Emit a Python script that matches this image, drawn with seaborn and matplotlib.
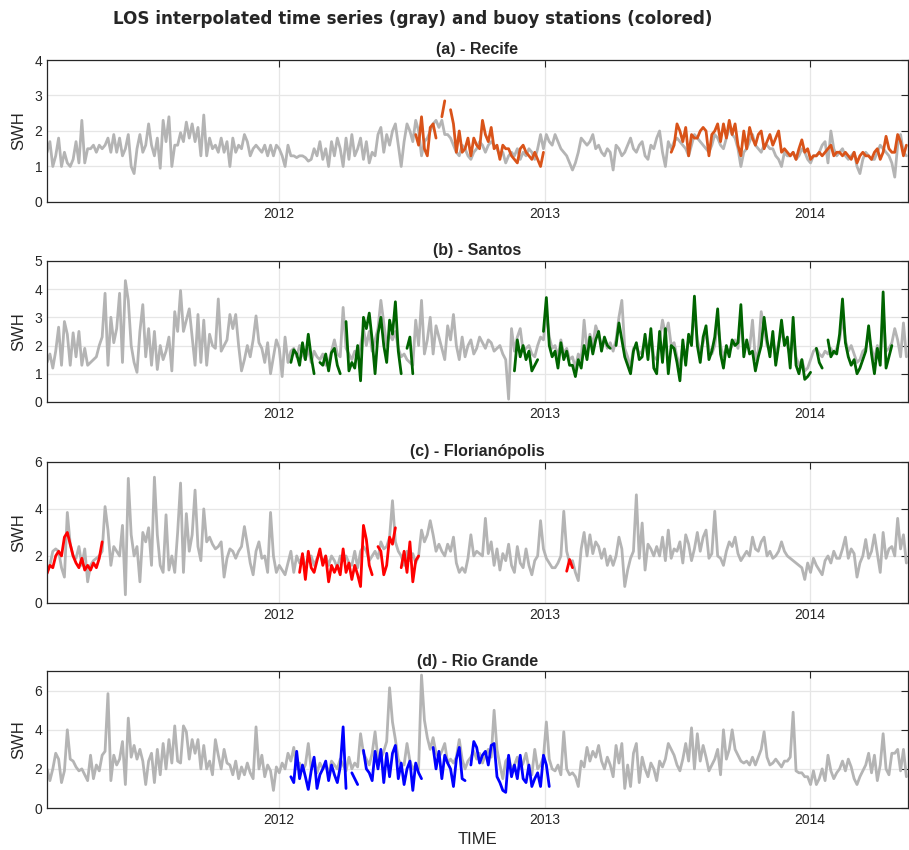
import pandas as pd
import seaborn as sns
import matplotlib
matplotlib.use("Agg")
import matplotlib.pyplot as plt
import matplotlib.dates as mdates

# LOS series sampled every 4 days from 2011-02-15
LOS_START = "2011-02-15"
STEP = "4D"

recife_los = [
    1.4, 1.7, 1.0, 1.3, 1.8, 1.0, 1.4, 1.1, 1.0, 1.2,
    1.7, 1.1, 2.3, 1.1, 1.5, 1.5, 1.6, 1.4, 1.6, 1.5,
    1.6, 1.8, 1.4, 1.9, 1.4, 1.8, 1.3, 1.5, 1.9, 1.0,
    0.8, 1.5, 1.9, 1.4, 1.6, 2.2, 1.6, 1.3, 1.8, 0.95,
    2.3, 1.7, 2.4, 1.0, 1.6, 1.6, 1.95, 1.7, 2.25, 1.8,
    2.2, 1.7, 2.1, 1.3, 2.45, 1.3, 1.8, 1.5, 1.6, 1.4,
    1.8, 1.4, 1.7, 1.0, 1.8, 1.4, 1.6, 1.5, 1.9, 1.7,
    1.3, 1.5, 1.6, 1.5, 1.4, 1.6, 1.3, 1.6, 1.3, 1.6,
    1.5, 1.3, 1.0, 1.6, 1.3, 1.3, 1.25, 1.3, 1.3, 1.25,
    1.15, 1.2, 1.5, 1.3, 1.7, 1.2, 1.5, 1.0, 1.7, 1.3,
    1.8, 1.5, 1.0, 1.8, 1.2, 1.9, 1.3, 1.5, 1.8, 1.2,
    1.7, 1.1, 1.4, 1.3, 1.9, 2.1, 1.4, 1.9, 1.6, 2.0,
    2.2, 1.6, 1.0, 1.7, 2.2, 2.0, 1.7, 2.3, 2.0, 1.3,
    1.7, 1.8, 2.0, 2.2, 2.3, 2.1, 2.3, 1.9, 1.9, 1.8,
    1.6, 1.4, 1.3, 1.6, 1.5, 1.3, 1.2, 1.4, 1.5, 1.7,
    1.6, 1.4, 1.6, 1.7, 1.6, 1.5, 1.3, 1.4, 1.1, 1.3,
    1.4, 1.3, 1.5, 1.2, 1.4, 1.3, 1.5, 1.4, 1.2, 1.5,
    1.9, 1.5, 1.9, 1.7, 1.6, 1.9, 1.7, 1.5, 1.4, 1.3,
    1.1, 0.9, 1.1, 1.4, 1.8, 1.7, 1.6, 1.7, 1.9, 1.5,
    1.6, 1.4, 1.3, 1.5, 1.4, 0.9, 1.6, 1.5, 1.3, 1.4,
    1.6, 1.8, 1.5, 1.4, 1.6, 1.7, 1.3, 1.2, 1.6, 1.5,
    1.8, 2.0, 1.4, 1.0, 1.7, 1.5, 1.7, 1.8, 1.7, 1.6,
    1.5, 1.3, 1.6, 1.9, 1.8, 1.7, 1.6, 1.5, 1.4, 1.6,
    1.9, 1.8, 1.6, 1.5, 1.8, 2.1, 1.9, 1.8, 1.5, 1.0,
    1.4, 1.5, 1.7, 1.9, 1.6, 1.5, 1.4, 1.6, 1.6, 1.5,
    1.5, 1.3, 1.2, 1.0, 1.4, 1.3, 1.3, 1.4, 1.2, 1.3,
    1.5, 1.4, 1.2, 1.1, 1.3, 1.3, 1.4, 1.6, 1.7, 1.1,
    2.0, 1.5, 1.3, 1.4, 1.5, 1.3, 1.2, 1.3, 1.4, 1.0,
    0.8, 1.2, 1.4, 1.3, 1.2, 1.2, 1.4, 1.6, 1.5, 1.4,
    1.3, 1.1, 0.7, 1.6, 1.9, 1.4, 1.3,
]

santos_los = [
    1.4, 1.7, 1.2, 1.8, 2.65, 1.3, 2.85, 2.4, 1.3, 2.45,
    1.6, 2.5, 1.3, 1.9, 1.3, 1.4, 1.5, 1.6, 2.0, 2.3,
    3.85, 1.3, 3.0, 2.1, 2.6, 3.85, 1.4, 4.3, 3.6, 2.0,
    1.4, 1.05, 2.5, 3.45, 1.6, 2.6, 1.3, 2.5, 1.15, 2.0,
    1.5, 1.8, 2.3, 1.1, 3.2, 2.5, 3.95, 2.5, 2.9, 3.3,
    2.3, 1.3, 3.1, 1.4, 2.9, 1.3, 2.4, 2.0, 1.9, 3.65,
    1.8, 2.0, 2.2, 3.1, 2.6, 3.1, 2.0, 1.1, 1.5, 2.0,
    1.6, 2.2, 3.05, 2.1, 1.9, 1.4, 2.1, 1.0, 1.6, 2.2,
    1.9, 0.9, 2.3, 1.4, 1.8, 1.9, 1.6, 2.0, 1.7, 1.5,
    1.9, 1.4, 1.8, 1.6, 1.5, 1.7, 1.3, 1.4, 1.8, 2.2,
    1.7, 1.6, 3.35, 1.9, 1.7, 1.5, 1.8, 1.6, 2.0, 2.6,
    2.0, 2.5, 1.8, 2.2, 2.6, 3.6, 2.8, 2.0, 2.4, 2.2,
    2.5, 1.9, 1.6, 1.7, 1.5, 1.4, 1.3, 2.9, 2.0, 3.6,
    1.7, 2.2, 3.0, 1.7, 2.7, 2.3, 1.9, 1.5, 2.7, 2.2,
    3.1, 2.0, 1.5, 2.3, 1.6, 2.0, 2.2, 1.7, 1.9, 2.3,
    2.1, 1.9, 2.2, 2.1, 1.8, 1.9, 2.0, 1.7, 1.5, 0.1,
    2.6, 1.8, 2.3, 2.6, 1.8, 1.9, 2.0, 1.7, 1.6, 2.0,
    2.3, 2.2, 3.2, 2.3, 1.9, 2.0, 1.6, 2.2, 1.7, 1.9,
    1.5, 1.6, 1.2, 1.7, 1.5, 2.9, 1.8, 2.4, 2.0, 2.7,
    2.4, 2.0, 2.2, 1.9, 2.1, 1.8, 2.2, 3.0, 3.6, 1.9,
    1.6, 1.2, 1.9, 2.0, 1.7, 1.8, 2.2, 1.8, 2.4, 1.6,
    1.5, 2.2, 2.9, 2.4, 2.8, 2.0, 2.1, 1.6, 1.3, 2.0,
    1.6, 2.2, 2.3, 3.1, 2.2, 1.8, 2.1, 2.5, 1.9, 1.7,
    2.0, 2.8, 2.0, 1.6, 1.9, 1.8, 2.0, 2.2, 1.9, 2.9,
    1.9, 2.0, 1.9, 2.9, 1.5, 1.8, 3.2, 2.6, 2.0, 1.8,
    2.2, 1.6, 2.1, 2.5, 2.1, 2.0, 1.6, 2.4, 1.6, 1.3,
    1.5, 1.1, 1.2, 1.5, 1.8, 1.9, 1.7, 1.6, 1.8, 1.7,
    1.9, 1.7, 1.9, 2.2, 3.0, 2.2, 1.8, 2.0, 1.7, 1.4,
    1.5, 1.8, 1.9, 2.4, 1.9, 1.5, 2.0, 1.6, 3.2, 1.8,
    1.9, 2.1, 2.6, 2.2, 1.6, 2.8, 1.6,
]

floripa_los = [
    1.3, 1.6, 2.2, 2.3, 2.2, 1.5, 1.1, 3.85, 2.5, 2.0,
    1.9, 2.4, 1.6, 2.3, 0.9, 1.6, 1.8, 1.9, 2.0, 2.2,
    4.1, 3.1, 1.6, 2.4, 2.2, 2.0, 3.3, 0.35, 5.3, 2.9,
    2.0, 2.4, 0.9, 3.0, 2.6, 3.2, 1.6, 5.35, 2.9, 1.6,
    1.3, 3.75, 1.4, 2.0, 1.3, 3.0, 5.1, 1.3, 3.8, 2.2,
    2.9, 4.8, 2.4, 1.8, 4.0, 2.6, 2.8, 2.5, 2.3, 2.4,
    2.6, 1.1, 1.9, 2.3, 2.2, 1.9, 2.2, 2.4, 3.25, 2.5,
    1.7, 1.2, 2.2, 2.6, 1.9, 2.0, 1.3, 3.85, 2.0, 1.3,
    1.6, 1.4, 1.2, 1.7, 2.2, 1.3, 2.0, 1.7, 2.0, 1.6,
    1.8, 2.0, 1.6, 1.9, 2.1, 1.7, 2.0, 1.6, 2.0, 1.8,
    1.5, 2.0, 1.8, 2.0, 1.7, 1.6, 2.2, 1.5, 2.2, 2.4,
    2.2, 1.8, 2.0, 2.2, 1.9, 2.6, 2.3, 2.4, 2.8, 4.35,
    2.6, 2.2, 2.0, 1.6, 2.2, 1.8, 2.1, 1.7, 2.0, 3.1,
    2.6, 2.9, 3.5, 2.9, 2.2, 2.5, 2.2, 2.0, 2.5, 2.2,
    2.8, 1.7, 1.3, 1.5, 1.3, 1.9, 2.9, 2.0, 2.2, 2.1,
    2.0, 3.6, 2.1, 2.6, 1.6, 2.3, 1.4, 2.1, 1.8, 2.5,
    1.6, 1.3, 2.4, 1.7, 1.5, 2.3, 1.6, 1.2, 1.8, 2.0,
    3.5, 2.3, 1.9, 1.7, 1.5, 1.5, 1.7, 2.0, 3.9, 2.2,
    1.7, 1.8, 1.3, 0.95, 2.3, 3.0, 2.0, 2.9, 2.1, 2.6,
    2.4, 1.9, 2.3, 1.6, 2.0, 1.6, 2.0, 2.8, 2.3, 0.7,
    1.4, 1.9, 2.2, 4.6, 1.9, 3.4, 1.4, 2.5, 2.3, 2.0,
    2.4, 2.0, 2.8, 1.8, 3.1, 1.9, 2.3, 2.2, 2.6, 1.7,
    2.9, 2.5, 1.8, 2.3, 3.0, 2.2, 2.8, 3.1, 1.9, 2.1,
    3.9, 2.0, 1.9, 1.6, 2.2, 2.6, 2.4, 2.8, 2.1, 1.8,
    2.0, 2.2, 2.0, 2.8, 2.3, 2.2, 2.6, 2.8, 2.0, 2.2,
    1.9, 2.0, 2.2, 2.6, 2.2, 2.0, 1.9, 1.8, 1.7, 1.6,
    1.5, 1.0, 1.7, 1.3, 1.9, 1.6, 1.4, 1.2, 1.8, 2.0,
    1.7, 2.2, 1.9, 1.9, 2.3, 2.8, 1.9, 2.3, 2.1, 1.1,
    1.7, 2.0, 2.7, 1.9, 2.2, 2.9, 2.1, 1.3, 3.0, 1.9,
    2.3, 2.4, 2.0, 3.6, 2.3, 2.9, 1.7,
]

riogrande_los = [
    2.0, 1.4, 2.0, 2.8, 2.5, 1.3, 1.9, 4.0, 2.5, 2.4,
    2.1, 1.9, 2.0, 1.7, 1.4, 2.7, 1.5, 2.2, 1.9, 2.7,
    2.9, 5.85, 1.4, 2.7, 2.2, 2.5, 3.4, 1.2, 4.6, 2.6,
    3.2, 2.5, 3.0, 2.4, 1.2, 2.4, 2.8, 1.3, 3.0, 1.7,
    3.3, 2.0, 3.5, 2.3, 4.2, 2.4, 2.3, 4.2, 3.9, 2.5,
    3.5, 2.8, 3.5, 2.0, 3.2, 2.0, 2.4, 1.7, 3.5, 2.7,
    2.0, 3.0, 2.3, 2.2, 1.7, 2.4, 1.5, 2.1, 1.7, 2.3,
    1.8, 1.5, 4.15, 2.0, 2.7, 1.6, 2.2, 1.9, 0.9, 2.1,
    1.8, 2.3, 2.0, 2.8, 2.4, 3.1, 2.0, 2.3, 1.9, 2.2,
    3.3, 2.0, 2.5, 1.8, 2.3, 2.0, 2.2, 1.8, 2.4, 2.2,
    2.0, 2.5, 2.2, 1.9, 2.6, 2.0, 2.3, 2.1, 3.8, 2.8,
    2.5, 2.2, 2.8, 3.9, 2.5, 2.5, 2.9, 3.4, 6.15, 4.4,
    3.5, 2.5, 2.2, 2.2, 3.3, 2.4, 2.0, 2.2, 2.0, 6.8,
    4.5, 3.6, 3.0, 3.6, 2.8, 2.6, 2.9, 3.3, 2.3, 2.5,
    2.3, 2.6, 3.5, 2.5, 2.0, 2.4, 2.6, 2.9, 2.5, 2.8,
    2.3, 2.7, 3.0, 2.6, 5.0, 3.0, 2.2, 1.5, 2.4, 2.6,
    2.0, 2.2, 2.6, 2.0, 2.3, 2.8, 2.0, 1.7, 3.0, 2.0,
    2.2, 2.6, 4.4, 2.5, 2.0, 1.9, 2.2, 1.7, 3.9, 2.0,
    1.7, 1.8, 1.6, 1.1, 2.4, 2.1, 3.1, 2.4, 2.9, 2.6,
    3.2, 2.4, 2.0, 2.6, 2.2, 1.6, 3.2, 2.3, 3.3, 1.0,
    2.2, 1.1, 2.8, 3.3, 1.3, 2.6, 2.0, 1.6, 2.3, 2.0,
    1.4, 2.4, 2.1, 2.5, 3.3, 3.0, 2.7, 2.2, 1.9, 2.5,
    3.3, 2.4, 4.1, 2.0, 3.8, 2.4, 3.2, 2.6, 1.9, 2.2,
    2.5, 3.0, 1.7, 4.0, 2.5, 3.0, 4.0, 3.0, 2.7, 2.4,
    2.3, 2.4, 2.2, 2.6, 2.2, 2.6, 3.0, 3.9, 2.6, 2.2,
    2.3, 2.5, 2.3, 2.1, 2.4, 2.4, 2.6, 4.9, 1.9, 1.8,
    1.8, 1.6, 1.6, 1.2, 1.9, 1.2, 1.5, 2.0, 1.4, 2.7,
    1.9, 1.5, 1.8, 2.0, 2.4, 1.9, 2.5, 2.1, 1.5, 1.2,
    1.6, 1.9, 2.2, 2.8, 1.8, 2.7, 1.4, 2.2, 3.8, 2.0,
    1.7, 2.8, 2.8, 3.0, 1.9, 3.0, 1.6,
]

# buoy records (same 4-day step, None = no data)
recife_buoy_a_start = "2012-07-07"
recife_buoy_a = [
    1.9, 1.6, 2.4, 1.5, 1.3, 2.1, 2.2, 1.8, None, 2.4, 2.85, None,
    2.6, 2.2, 1.4, 2.0, 1.4, 1.5, 1.8, 1.3, 1.8, 1.6, 1.5, 2.3, 1.9,
    1.7, 2.1, 1.5, 1.6, 1.2, 1.6, 1.5, 1.5, 1.3, 1.2, 1.1, 1.5, 1.6,
    1.4, 1.3, 1.2, 1.4, 1.2, 1.0, 1.4,
]
recife_buoy_b_start = "2013-06-24"
recife_buoy_b = [
    1.4, 1.6, 2.2, 2.0, 1.7, 2.1, 1.3, 1.9, 1.8, 1.8,
    2.0, 2.1, 2.0, 1.3, 1.9, 2.0, 2.2, 1.7, 2.2, 1.8,
    2.3, 1.9, 2.2, 1.6, 1.3, 2.0, 1.5, 2.1, 1.8, 1.6,
    1.9, 2.0, 1.5, 1.7, 1.9, 1.6, 1.8, 2.0, 1.4, 1.5,
    1.4, 1.3, 1.4, 1.2, 1.5, 1.75, 1.4, 1.5, 1.2, 1.3,
    1.3, 1.4, 1.3, 1.4, 1.5, 1.6, 1.3, 1.4, 1.4, 1.3,
    1.4, 1.3, 1.2, 1.4, 1.1, 1.3, 1.4, 1.3, 1.3, 1.2,
    1.4, 1.5, 1.2, 1.4, 1.85, 1.5, 1.4, 1.4, 1.9, 1.7,
    1.3, 1.6,
]

santos_buoy_a_start = "2012-01-17"
santos_buoy_a = [
    1.4, 1.85, 1.7, 1.3, 2.1, 1.5, 2.4, 1.6, 1.0, None,
    1.4, 1.3, 1.7, 1.1, 1.75, 1.9, 1.3, 1.0, None, 2.85,
    1.1, 1.4, 1.2, 2.0, 0.75, 3.0, 2.6, 3.15, 2.2, 1.0,
    2.4, 3.0, 2.0, 1.4, 2.9, 2.4, 3.55, 1.8, 1.0, None,
    1.9, 2.3, 1.0,
]
santos_buoy_b_start = "2012-11-20"
santos_buoy_b = [
    1.1, 2.2, 1.6, 2.0, 1.5, 1.8, 1.1, 1.3, 1.5, None,
    2.5, 3.7, 2.0, 1.6, 1.8, 1.2, 2.1, 1.5, 1.8, 1.3,
    1.3, 0.9, 1.5, 1.2, 2.0, 1.5, 2.3, 1.7, 2.2, 2.5,
    1.8, 2.3, 2.0, 1.9, None, 2.0, 2.8, 2.2, 1.6, 1.3,
    1.0, 1.8, 2.1, 1.5, 1.6, 2.4, 1.5, 2.6, 1.2, 1.0,
    2.5, 1.4, 2.6, 1.0, 2.0, 1.9, 1.4, 0.75, 2.2, 1.3,
    2.4, 2.0, 3.75, 2.0, 1.4, 2.3, 2.7, 1.5, 1.8, 2.3,
    3.3, 1.7, 1.2, 2.0, 1.6, 2.2, 2.0, 2.1, 3.45, 1.6,
    2.2, 1.7, 1.8, 1.1, 1.6, 2.0, 3.0, 2.2, 1.6, 2.5,
    1.3, 2.0, 2.9, 2.0, 2.3, 1.2, 3.0, 1.3, 1.0, 1.5,
    0.8, 0.9, 1.05, None, 1.9, 1.4, 1.2, None, 2.2, 1.6,
    1.8, 1.7, 2.4, 3.65, 2.1, 1.6, 1.3, 1.5, 1.0, 1.2,
    1.5, 1.8, 2.7, 1.7, 1.0, 1.9, 1.3, 3.9, 1.2, 1.6, 2.0,
]

floripa_buoy_a_start = "2011-02-15"
floripa_buoy_a = [
    1.25, 1.6, 1.5, 2.0, 2.2, 2.0, 2.8, 3.0, 2.5, 2.0,
    1.7, 1.5, 1.9, 1.4, 1.6, 1.4, 1.7, 1.5, 1.9, 2.6,
]
floripa_buoy_b_start = "2012-01-29"
floripa_buoy_b = [
    1.3, 2.1, 1.0, 2.2, 1.5, 1.3, 1.8, 2.3, 1.6, 2.0,
    0.9, 1.6, 1.3, 1.6, 1.2, 2.3, 1.3, 1.7, 1.0, 1.6,
    1.2, 0.7, 3.3, 2.7, 1.6, 1.2, None, 2.4, 2.2, 1.2,
    1.6, 2.8, 2.5, 3.2, None, 1.5, 2.2, 1.3, 2.6, 0.9,
    1.8, 2.0,
]
floripa_buoy_c_start = "2013-01-31"
floripa_buoy_c = [1.35, 1.85, 1.5]

riogrande_buoy_start = "2012-01-17"
riogrande_buoy = [
    1.6, 1.3, 2.9, 1.5, 2.2, 1.6, 0.95, 1.9, 2.6, 1.0,
    1.7, 2.0, 2.4, 1.4, 2.2, 1.7, 1.3, 2.1, 4.15, 1.0,
    None, 1.8, 1.5, 1.2, None, 2.95, 2.0, 1.8, 1.4, 2.9,
    2.0, 3.0, 1.3, 2.8, 1.6, 2.8, 3.2, 1.5, 2.3, 1.2,
    2.0, 2.4, 0.9, 2.3, 1.8, 1.5, None, 1.7, None, 3.1,
    2.0, 2.9, 1.5, 2.7, 2.3, 2.0, 1.1, 2.5, 3.1, 1.5,
    1.4, None, 2.2, 3.4, 3.1, 2.3, 2.7, 2.9, 2.2, 3.2,
    3.3, 1.6, 1.3, 0.9, 0.8, 2.7, 1.6, 2.2, 1.5, 2.7,
    1.5, 1.3, 2.2, 1.1, 1.5, 1.8, 1.1, 2.7, 2.2, 1.1,
]

GRAY = "#b4b4b4"
TXT = "#262626"


def to_series(start, values):
    idx = pd.date_range(start, periods=len(values), freq=STEP)
    return pd.Series(values, index=idx, dtype=float)


def draw_line(ax, start, values, color, lw=2.0):
    s = to_series(start, values)
    runs = s.isna().cumsum()
    for _, run in s[s.notna()].groupby(runs[s.notna()]):
        if len(run) < 2:
            continue
        df = pd.DataFrame({"time": run.index, "swh": run.values})
        sns.lineplot(data=df, x="time", y="swh", ax=ax, color=color,
                     lw=lw, estimator=None, sort=False)


sns.set_style("white")
plt.rcParams["font.family"] = ["Liberation Sans", "DejaVu Sans"]

fig = plt.figure(figsize=(9.09, 8.5), dpi=100)

panels = [
    ("(a) - Recife", recife_los,
     [(recife_buoy_a_start, recife_buoy_a), (recife_buoy_b_start, recife_buoy_b)],
     "#d95319", 4, [0, 1, 2, 3, 4], [0.0517, 0.7624, 0.947, 0.167]),
    ("(b) - Santos", santos_los,
     [(santos_buoy_a_start, santos_buoy_a), (santos_buoy_b_start, santos_buoy_b)],
     "#006400", 5, [0, 1, 2, 3, 4, 5], [0.0517, 0.5271, 0.947, 0.166]),
    ("(c) - Florianópolis", floripa_los,
     [(floripa_buoy_a_start, floripa_buoy_a), (floripa_buoy_b_start, floripa_buoy_b),
      (floripa_buoy_c_start, floripa_buoy_c)],
     "#ff0000", 6, [0, 2, 4, 6], [0.0517, 0.2906, 0.947, 0.166]),
    ("(d) - Rio Grande", riogrande_los,
     [(riogrande_buoy_start, riogrande_buoy)],
     "#0000ff", 7, [0, 2, 4, 6], [0.0517, 0.0494, 0.947, 0.161]),
]

for k, (title, los, buoys, color, ytop, yticks, rect) in enumerate(panels):
    ax = fig.add_axes(rect)
    draw_line(ax, LOS_START, los, GRAY)
    for start, vals in buoys:
        draw_line(ax, start, vals, color)

    ax.set_xlim(pd.Timestamp("2011-02-15"), pd.Timestamp("2014-05-16"))
    ax.set_ylim(0, ytop)
    ax.set_yticks(yticks)
    ax.xaxis.set_major_locator(mdates.YearLocator())
    ax.xaxis.set_major_formatter(mdates.DateFormatter("%Y"))
    ax.grid(True, color="#e6e6e6", lw=0.9)
    ax.set_axisbelow(True)
    ax.tick_params(direction="in", top=True, right=True, length=5,
                   width=0.8, color=TXT, labelcolor=TXT, labelsize=10)
    for sp in ax.spines.values():
        sp.set_color(TXT)
        sp.set_linewidth(0.9)
    ax.set_title(title, fontsize=11.5, fontweight="bold", pad=4,
                 family=["Liberation Sans Narrow", "Liberation Sans"])
    ax.set_ylabel("SWH", fontsize=12, color=TXT, labelpad=6)
    if k == len(panels) - 1:
        ax.set_xlabel("TIME", fontsize=12, color=TXT, labelpad=4)
    else:
        ax.set_xlabel("")

fig.text(0.4545, 0.978,
         "LOS interpolated time series (gray) and buoy stations (colored)",
         ha="center", va="center", fontsize=12.1, fontweight="bold",
         family="DejaVu Sans")

fig.savefig("out.png", dpi=100)
